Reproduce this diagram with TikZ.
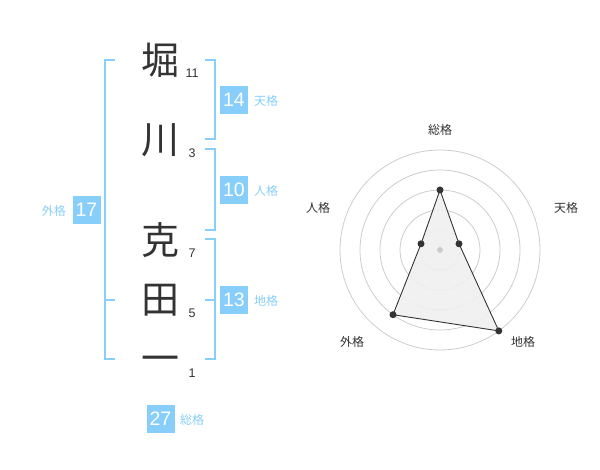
\documentclass[tikz,border=0pt]{standalone}
\usepackage{fontspec}
\setmainfont{Liberation Sans}
\newfontfamily\jp{Noto Sans CJK JP}
\definecolor{sky}{HTML}{87CEFA}
\definecolor{ink}{HTML}{333333}
\definecolor{ringc}{HTML}{CCCCCC}
\definecolor{areac}{HTML}{F0F0F0}
\begin{document}
\begin{tikzpicture}[x=1pt,y=-1pt,
  kanji/.style={font=\jp\fontsize{38}{38}\selectfont,text=ink,inner sep=0pt},
  strokes/.style={font=\fontsize{12.5}{12.5}\selectfont,text=ink,inner sep=0pt},
  valbox/.style={fill=sky,text=white,minimum width=28pt,minimum height=28pt,inner sep=0pt,font=\fontsize{19.5}{19.5}\selectfont},
  kaku/.style={font=\jp\fontsize{12}{12}\selectfont,text=sky,inner sep=0pt},
  bracket/.style={draw=sky,line width=2pt},
  ring/.style={draw=ringc,line width=0.8pt},
  axislab/.style={font=\jp\fontsize{12}{12}\selectfont,text=ink,inner sep=0pt},
  dot/.style={circle,fill=ink,inner sep=0pt,minimum size=7pt},
]
\useasboundingbox (0,0) rectangle (600,470);
% characters
\node[kanji] (c1) at (160,60) {堀};
\node[kanji] (c2) at (160,140) {川};
\node[kanji] (c3) at (160,240) {克};
\node[kanji] (c4) at (160,300) {田};
\node[kanji] (c5) at (160,364) {一};
\node[strokes] (s1) at (192,73) {11};
\node[strokes] (s2) at (192,153) {3};
\node[strokes] (s3) at (192,253) {7};
\node[strokes] (s4) at (192,313) {5};
\node[strokes] (s5) at (192,373) {1};
% brackets
\draw[bracket] (115,60) -- (105,60) -- (105,359) -- (115,359);
\draw[bracket] (105,300) -- (115,300);
\draw[bracket] (205,60) -- (215,60) -- (215,139) -- (205,139);
\draw[bracket] (205,149) -- (215,149) -- (215,230) -- (205,230);
\draw[bracket] (205,239) -- (215,239) -- (215,359) -- (205,359);
\draw[bracket] (205,300) -- (215,300);
% values
\node[valbox] (b14) at (234,100) {14};
\node[kaku,anchor=west] (k14) at (254,101) {天格};
\node[valbox] (b10) at (234,190) {10};
\node[kaku,anchor=west] (k10) at (254,191) {人格};
\node[valbox] (b13) at (234,300) {13};
\node[kaku,anchor=west] (k13) at (254,301) {地格};
\node[valbox] (b17) at (86.5,210) {17};
\node[kaku,anchor=east] (k17) at (66,211) {外格};
\node[valbox] (b27) at (160.5,419) {27};
\node[kaku,anchor=west] (k27) at (180,420) {総格};
% radar
\coordinate (ctr) at (440,250);
\foreach \r in {20,40,60,80,100} \draw[ring] (ctr) circle[radius=\r];
\coordinate (psou) at (440,190);
\coordinate (pten) at (459.0,243.8);
\coordinate (pchi) at (498.8,330.9);
\coordinate (pgai) at (393.0,314.7);
\coordinate (pjin) at (421.0,243.8);
\fill[areac,opacity=0.9] (psou) -- (pten) -- (pchi) -- (pgai) -- (pjin) -- cycle;
\draw[ink,line width=0.9pt] (psou) -- (pten) -- (pchi) -- (pgai) -- (pjin) -- cycle;
\node[circle,fill=ringc,inner sep=0pt,minimum size=6pt] (cdot) at (ctr) {};
\foreach \p in {psou,pten,pchi,pgai,pjin} \node[dot] at (\p) {};
\node[axislab] (lsou) at (440,130) {総格};
\node[axislab] (lten) at (566,208) {天格};
\node[axislab] (lchi) at (523,342) {地格};
\node[axislab] (lgai) at (352,342) {外格};
\node[axislab] (ljin) at (318,208) {人格};
\end{tikzpicture}
\end{document}
